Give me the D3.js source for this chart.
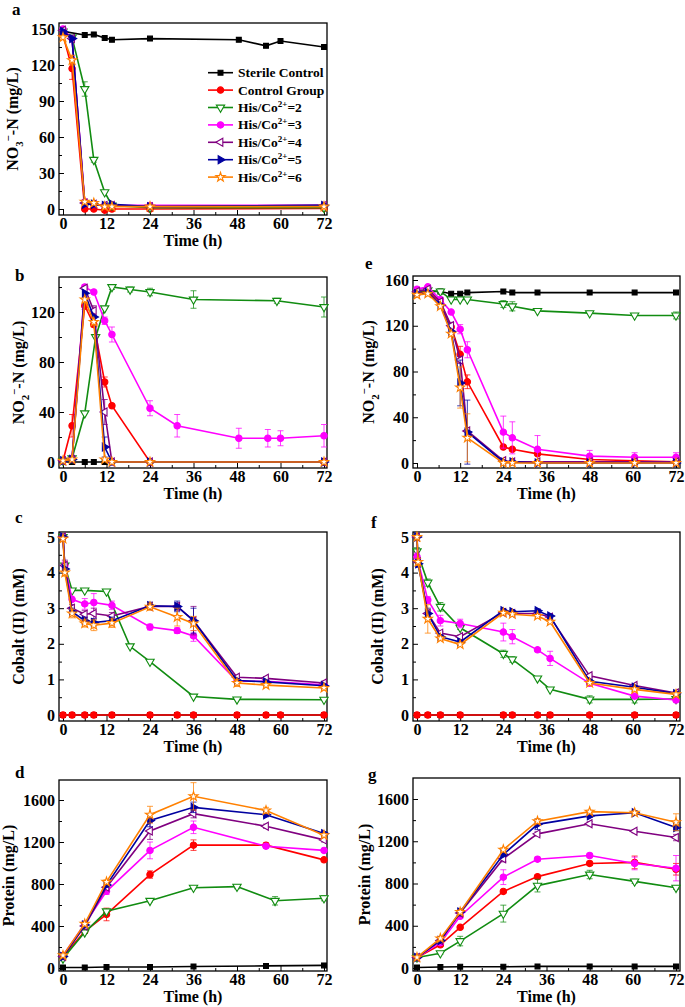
<!DOCTYPE html>
<html><head><meta charset="utf-8">
<script src="https://cdn.jsdelivr.net/npm/d3@7"></script>
<style>
body{margin:0;background:#fff;}
text{font-family:"Liberation Serif","Times New Roman",serif;font-weight:bold;fill:#000;}
</style>
</head><body>
<svg id="chart" width="685" height="1007"></svg>
<script>
// ---------------- DATA ----------------
const seriesKeys = ["sterile","control","his2","his3","his4","his5","his6"];
const seriesLabels = ["Sterile Control","Control Group","His/Co|2+|=2","His/Co|2+|=3","His/Co|2+|=4","His/Co|2+|=5","His/Co|2+|=6"];
const xTicks = [0,12,24,36,48,60,72];
const xMinorTicks = [6,18,30,42,54,66];

// Panel a: NO3- -N (mg/L)
const timeA_sterile = [0,6,8.5,11.5,13.5,24,48.5,56,60,72];
const nitrateA_sterile = [148,145,145.5,142.5,141,142,141,136,140,135];
const timeA = [0,2.5,6,8.5,11.5,13.5,24,72];
const nitrateA_control = [145,117,0,0,-1,0,0,0.5];
const nitrateA_his2 = [148,143,100,41,14,3,1,1];
const nitrateA_his3 = [150,142,6,4,3,3,3,3];
const nitrateA_his4 = [149,142,5,4,3,3,2,3];
const nitrateA_his5 = [148,142,4,4,3,4,2,3];
const nitrateA_his6 = [143,124,6,5,2,2,2,2];
const errA_control = [0,9,0,0,0,0,0,0];
const errA_his2 = [0,0,6,2,0,0,0,0];
const errA_his6 = [0,4,0,0,0,0,0,0];
const yTicksA = [0,30,60,90,120,150];
const yMinorA = [15,45,75,105,135];

// Panel b: NO2- -N (mg/L), nitrate medium
const timeB = [0,2.5,6,8.5,11.5,13.5,24,72];
const nitriteB_sterile = [0,0,0,0,0,0,0,0];
const nitriteB_control = [1,29,125,110,64,45,0,0];
const errB_control = [0,9,3,2,4,0,0,0];
const timeB_his2 = [0,2.5,6,9,11.5,13.5,18.5,24,36,59,72];
const nitriteB_his2 = [1,3,39,100,123,140,138,136,130,129,124];
const errB_his2 = [0,0,0,0,0,2,2,3,7,2,8];
const timeB_his3 = [0,2.5,6,8.5,11.5,13.5,24,31.5,48.5,56.5,60,72];
const nitriteB_his3 = [1,3,140,136,113,102,43,29,19,19,19,21];
const errB_his3 = [0,0,2,0,3,6,6,9,8,7,6,9];
const nitriteB_his4 = [1,2,139,121,40,0,0,0];
const errB_his4 = [0,0,0,4,10,0,0,0];
const nitriteB_his5 = [1,2,135,116,12,0,0,0];
const errB_his5 = [0,0,0,0,8,0,0,0];
const nitriteB_his6 = [1,2,130,112,2,0,0,0];
const yTicksB = [0,40,80,120];
const yMinorB = [20,60,100,140];

// Panel e: NO2- -N (mg/L), nitrite medium
const timeE = [0,3,6.5,9.5,12,14,24,26.5,33.5,48,60.5,72];
const nitriteE_sterile = [150,150,150,148,148,149,150,149,149,149,149,149];
const nitriteE_control = [148,150,140,119,95,71,14,12,8,3,2,1];
const errE_control = [0,0,0,0,7,6,0,0,0,0,0,0];
const nitriteE_his2 = [150,151,150,143,143,143,139,137,133,131,129,129];
const errE_his2 = [0,0,2,0,0,0,3,4,0,0,0,3];
const nitriteE_his3 = [152,154,143,132,117,99,27,22,12,6,5,5];
const errE_his3 = [0,0,0,0,4,7,14,14,12,5,4,4];
const nitriteE_his4 = [150,152,141,120,90,28,2,1,1,1,1,1];
const errE_his4 = [0,0,0,3,3,0,0,0,0,0,0,0];
const nitriteE_his5 = [148,149,138,115,70,27,1,1,0,0,0,0];
const errE_his5 = [0,0,0,0,20,28,0,0,0,0,0,0];
const nitriteE_his6 = [147,148,137,113,66,22,0,0,0,0,0,0];
const errE_his6 = [0,0,0,0,18,21,0,0,0,0,0,0];
const yTicksE = [0,40,80,120,160];
const yMinorE = [20,60,100,140];

// Panel c: Cobalt (II) (mM), nitrate medium
const timeC_zero = [0,2.5,6,8.5,13.5,24,31.5,36,48,56,60,72];
const cobaltC_sterile = [0,0,0,0,0,0,0,0,0,0,0,0];
const cobaltC_control = [0,0,0,0,0,0,0,0,0,0,0,0];
const timeC_his2 = [0,0.5,2.5,6,12,18.5,24,36,48,72];
const cobaltC_his2 = [5.0,4.2,3.5,3.5,3.47,1.93,1.5,0.52,0.44,0.43];
const timeC = [0,0.5,2.5,6,8.5,13.5,24,31.5,36,48,56,72];
const cobaltC_his3 = [5.0,4.2,3.25,3.12,3.16,3.08,2.47,2.37,2.22,0.95,0.95,0.85];
const errC_his3 = [0,0.1,0,0.15,0.25,0.12,0.08,0.08,0.15,0,0,0];
const cobaltC_his4 = [5.0,4.2,3.0,2.83,2.85,2.78,3.05,3.05,2.65,1.06,1.03,0.9];
const errC_his4 = [0,0.15,0.1,0.1,0.15,0.1,0.08,0.1,0.4,0.05,0.05,0.05];
const cobaltC_his5 = [5.0,4.1,2.9,2.65,2.6,2.65,3.07,3.05,2.65,0.97,0.93,0.82];
const errC_his5 = [0,0,0.1,0.1,0.1,0.1,0.1,0.15,0.35,0.05,0.05,0.05];
const cobaltC_his6 = [4.95,4.0,2.85,2.57,2.52,2.58,3.04,2.75,2.57,0.9,0.84,0.76];
const errC_his6 = [0,0.1,0.12,0.1,0.15,0.12,0.1,0.25,0.2,0.1,0.05,0.05];
const yTicksC = [0,1,2,3,4,5];
const yMinorC = [0.5,1.5,2.5,3.5,4.5];

// Panel f: Cobalt (II) (mM), nitrite medium
const timeF_zero = [0,3,6.5,12,24,26.5,33.5,37,48,60.5,72];
const cobaltF_sterile = [0,0,0,0,0,0,0,0,0,0,0];
const cobaltF_control = [0,0,0,0,0,0,0,0,0,0,0];
const timeF_his2 = [0,3,6.5,12,24,26.5,33.5,37,48,60.5,72];
const cobaltF_his2 = [4.6,3.72,3.04,2.45,1.72,1.56,1.03,0.72,0.44,0.44,0.45];
const errF_his2 = [0.1,0.1,0.12,0.05,0.1,0.08,0,0,0.1,0.1,0.05];
const cobaltF_his3 = [4.45,3.23,2.65,2.57,2.33,2.2,1.83,1.59,0.89,0.53,0.42];
const errF_his3 = [0.1,0.1,0.15,0.12,0.25,0.2,0.05,0.2,0.05,0.05,0.05];
const timeF = [0,0.3,3,6.5,12,24,26.5,33.5,37,48,60.5,72];
const cobaltF_his4 = [5.0,4.3,2.85,2.3,2.2,2.88,2.85,2.85,2.75,1.1,0.83,0.62];
const errF_his4 = [0,0.1,0.1,0.05,0.05,0.05,0.05,0.05,0.05,0.05,0.05,0.05];
const cobaltF_his5 = [5.0,4.25,2.85,2.2,2.05,2.93,2.9,2.93,2.78,0.95,0.78,0.6];
const errF_his5 = [0,0.1,0.15,0.05,0.05,0.05,0.05,0.05,0.05,0.05,0.05,0.05];
const cobaltF_his6 = [5.0,4.3,2.7,2.15,1.98,2.87,2.83,2.78,2.62,0.9,0.72,0.58];
const errF_his6 = [0,0.1,0.4,0.05,0.05,0.05,0.05,0.05,0.05,0.05,0.05,0.05];

// Panel d: Protein (mg/L), nitrate medium
const timeD = [0,6,12,24,36,56,72];
const proteinD_sterile = [5,5,10,10,15,20,25];
const proteinD_control = [110,350,510,890,1170,1170,1030];
const errD_control = [0,20,60,35,50,20,15];
const timeD_his2 = [0,6,12,24,36,48,58.5,72];
const proteinD_his2 = [90,340,540,640,765,775,640,665];
const errD_his2 = [0,10,10,10,10,20,40,25];
const proteinD_his3 = [120,420,730,1120,1340,1160,1120];
const errD_his3 = [0,20,30,80,60,20,15];
const proteinD_his4 = [110,400,770,1305,1470,1350,1220];
const errD_his4 = [0,20,20,80,40,20,20];
const proteinD_his5 = [110,410,790,1405,1530,1460,1280];
const errD_his5 = [0,10,20,60,50,20,15];
const proteinD_his6 = [120,420,820,1460,1635,1500,1265];
const errD_his6 = [0,10,20,80,130,30,15];
const yTicksD = [0,400,800,1200,1600];
const yMinorD = [200,600,1000,1400];

// Panel g: Protein (mg/L), nitrite medium
const timeG = [0,6.5,12,24,33.5,48,60.5,72];
const proteinG_sterile = [5,10,12,12,15,15,15,15];
const proteinG_control = [100,220,385,725,865,990,1000,935];
const errG_control = [0,15,15,15,15,20,60,55];
const proteinG_his2 = [100,140,255,515,780,885,820,760];
const errG_his2 = [0,10,45,80,60,40,20,15];
const proteinG_his3 = [100,240,490,860,1030,1065,990,945];
const errG_his3 = [0,10,20,70,20,20,60,120];
const proteinG_his4 = [100,260,520,1035,1270,1365,1295,1235];
const errG_his4 = [0,20,30,30,20,20,15,30];
const proteinG_his5 = [100,260,530,1075,1360,1440,1470,1330];
const errG_his5 = [0,20,30,20,50,15,20,30];
const proteinG_his6 = [100,280,530,1120,1390,1480,1470,1380];
const errG_his6 = [0,20,20,20,25,15,15,80];

// ---------------- STYLES ----------------
const style = {
  sterile:{color:"#000000", type:d3.symbolSquare, size:24, rot:0, open:false},
  control:{color:"#ff0000", type:d3.symbolCircle, size:32, rot:0, open:false},
  his2:{color:"#118c11", type:d3.symbolTriangle, size:30, rot:180, open:true},
  his3:{color:"#ff00ff", type:d3.symbolCircle, size:32, rot:0, open:false},
  his4:{color:"#800080", type:d3.symbolTriangle, size:28, rot:-90, open:true},
  his5:{color:"#0000a0", type:d3.symbolTriangle, size:28, rot:90, open:false},
  his6:{color:"#ff8000", type:d3.symbolStar, size:26, rot:0, open:true}
};

const svg = d3.select("#chart");

function ser(key, t, v, e){ return {key, pts: t.map((tt,i)=>({t:tt, v:v[i], e: e ? e[i] : 0}))}; }

function addLabel(g, x, y, parts, rotate, anchor, size){
  const t = g.append("text")
    .attr("transform", `translate(${x},${y})` + (rotate ? " rotate(-90)" : ""))
    .attr("text-anchor", anchor).style("font-size", size + "px");
  let shift = 0;
  parts.forEach(([txt, kind]) => {
    const target = kind==="sub" ? size*0.3 : kind==="sup" ? -size*0.38 : 0;
    t.append("tspan").text(txt).attr("dy", target - shift)
      .style("font-size", (kind==="n" ? size : size*0.68) + "px");
    shift = target;
  });
  return t;
}

function drawPanel(p){
  const g = svg.append("g");
  const x = d3.scaleLinear().domain([0,72]).range(p.xr);
  const y = d3.scaleLinear().domain(p.yd).range(p.yr);

  const xa = g.append("g").attr("transform", `translate(0,${p.fy[1]})`)
    .call(d3.axisBottom(x).tickValues(xTicks).tickSize(-5).tickPadding(2).tickFormat(d3.format("d")));
  const xm = g.append("g").attr("transform", `translate(0,${p.fy[1]})`)
    .call(d3.axisBottom(x).tickValues(xMinorTicks).tickSize(-3).tickFormat(""));
  const ya = g.append("g").attr("transform", `translate(${p.fx[0]},0)`)
    .call(d3.axisLeft(y).tickValues(p.yTicks).tickSize(-5).tickPadding(4).tickFormat(d3.format("d")));
  const ym = g.append("g").attr("transform", `translate(${p.fx[0]},0)`)
    .call(d3.axisLeft(y).tickValues(p.yMinor).tickSize(-3).tickFormat(""));
  [xa,xm,ya,ym].forEach(a=>{
    a.select(".domain").remove();
    a.selectAll("line").attr("stroke","#000").attr("stroke-width",1);
    a.selectAll("text").style("font-size","16px").style("font-family",'"Liberation Serif",serif').style("font-weight","bold").attr("fill","#000");
  });
  xa.selectAll("text").attr("dy","0.72em");

  g.append("rect").attr("x",p.fx[0]).attr("y",p.fy[0])
    .attr("width",p.fx[1]-p.fx[0]).attr("height",p.fy[1]-p.fy[0])
    .attr("fill","none").attr("stroke","#000").attr("stroke-width",1.3);

  const line = d3.line().x(d=>x(d.t)).y(d=>y(d.v));
  p.series.forEach(s=>{
    const st = style[s.key];
    const sg = g.append("g");
    sg.append("path").attr("d", line(s.pts)).attr("fill","none")
      .attr("stroke", st.color).attr("stroke-width", 1.6);
    s.pts.filter(d=>d.e>0).forEach(d=>{
      const cx = x(d.t), y1 = y(d.v+d.e), y2 = y(d.v-d.e);
      sg.append("line").attr("x1",cx).attr("x2",cx).attr("y1",y1).attr("y2",y2).attr("stroke",st.color).attr("stroke-width",1).attr("opacity",0.75);
      [y1,y2].forEach(yy=>sg.append("line").attr("x1",cx-3).attr("x2",cx+3).attr("y1",yy).attr("y2",yy).attr("stroke",st.color).attr("stroke-width",1).attr("opacity",0.75));
    });
    sg.selectAll("path.m").data(s.pts).enter().append("path").attr("class","m")
      .attr("d", d3.symbol().type(st.type).size(st.size))
      .attr("transform", d=>`translate(${x(d.t)},${y(d.v)}) rotate(${st.rot})`)
      .attr("fill", st.open ? "#fff" : st.color)
      .attr("stroke", st.color).attr("stroke-width", 1.1);
  });

  g.append("text").attr("x",p.letterPos[0]).attr("y",p.letterPos[1]).text(p.letter).style("font-size","17px");
  g.append("text").attr("x",(p.fx[0]+p.fx[1])/2).attr("y",p.fy[1]+31).attr("text-anchor","middle").text("Time (h)").style("font-size","16px");
  addLabel(g, p.ylabX, (p.fy[0]+p.fy[1])/2, p.ylab, true, "middle", 16);
  return {g, x, y};
}

const L = {xr:[63,324], fx:[59,327]};
const R = {xr:[417,676], fx:[413,680]};

drawPanel({...L, fy:[23,215], yd:[0,150], yr:[209,29], yTicks:yTicksA, yMinor:yMinorA,
  letter:"a", letterPos:[12,15], ylabX:18,
  ylab:[["NO","n"],["3","sub"],["−","sup"],["-N (mg/L)","n"]],
  series:[ser("sterile",timeA_sterile,nitrateA_sterile), ser("control",timeA,nitrateA_control,errA_control),
    ser("his2",timeA,nitrateA_his2,errA_his2), ser("his3",timeA,nitrateA_his3), ser("his4",timeA,nitrateA_his4),
    ser("his5",timeA,nitrateA_his5), ser("his6",timeA,nitrateA_his6,errA_his6)]});

drawPanel({...L, fy:[277,468], yd:[0,120], yr:[462,312], yTicks:yTicksB, yMinor:yMinorB,
  letter:"b", letterPos:[15,281], ylabX:24,
  ylab:[["NO","n"],["2","sub"],["−","sup"],["-N (mg/L)","n"]],
  series:[ser("sterile",timeB,nitriteB_sterile), ser("control",timeB,nitriteB_control,errB_control),
    ser("his2",timeB_his2,nitriteB_his2,errB_his2), ser("his3",timeB_his3,nitriteB_his3,errB_his3),
    ser("his4",timeB,nitriteB_his4,errB_his4), ser("his5",timeB,nitriteB_his5,errB_his5), ser("his6",timeB,nitriteB_his6)]});

drawPanel({...R, fy:[276,468], yd:[0,160], yr:[463,280], yTicks:yTicksE, yMinor:yMinorE,
  letter:"e", letterPos:[365,269], ylabX:374,
  ylab:[["NO","n"],["2","sub"],["−","sup"],["-N (mg/L)","n"]],
  series:[ser("sterile",timeE,nitriteE_sterile), ser("control",timeE,nitriteE_control,errE_control),
    ser("his2",timeE,nitriteE_his2,errE_his2), ser("his3",timeE,nitriteE_his3,errE_his3),
    ser("his4",timeE,nitriteE_his4,errE_his4), ser("his5",timeE,nitriteE_his5,errE_his5), ser("his6",timeE,nitriteE_his6,errE_his6)]});

drawPanel({...L, fy:[532,721], yd:[0,5], yr:[715,537], yTicks:yTicksC, yMinor:yMinorC,
  letter:"c", letterPos:[15,523], ylabX:24,
  ylab:[["Cobalt (II) (mM)","n"]],
  series:[ser("sterile",timeC_zero,cobaltC_sterile), ser("control",timeC_zero,cobaltC_control),
    ser("his2",timeC_his2,cobaltC_his2), ser("his3",timeC,cobaltC_his3,errC_his3),
    ser("his4",timeC,cobaltC_his4,errC_his4), ser("his5",timeC,cobaltC_his5,errC_his5), ser("his6",timeC,cobaltC_his6,errC_his6)]});

drawPanel({...R, fy:[532,721], yd:[0,5], yr:[715,537], yTicks:yTicksC, yMinor:yMinorC,
  letter:"f", letterPos:[371,528], ylabX:383,
  ylab:[["Cobalt (II) (mM)","n"]],
  series:[ser("sterile",timeF_zero,cobaltF_sterile), ser("control",timeF_zero,cobaltF_control),
    ser("his2",timeF_his2,cobaltF_his2,errF_his2), ser("his3",timeF_his2,cobaltF_his3,errF_his3),
    ser("his4",timeF,cobaltF_his4,errF_his4), ser("his5",timeF,cobaltF_his5,errF_his5), ser("his6",timeF,cobaltF_his6,errF_his6)]});

drawPanel({...L, fy:[780,971], yd:[0,1600], yr:[968,800], yTicks:yTicksD, yMinor:yMinorD,
  letter:"d", letterPos:[15,778], ylabX:14,
  ylab:[["Protein (mg/L)","n"]],
  series:[ser("sterile",timeD,proteinD_sterile), ser("control",timeD,proteinD_control,errD_control),
    ser("his2",timeD_his2,proteinD_his2,errD_his2), ser("his3",timeD,proteinD_his3,errD_his3),
    ser("his4",timeD,proteinD_his4,errD_his4), ser("his5",timeD,proteinD_his5,errD_his5), ser("his6",timeD,proteinD_his6,errD_his6)]});

drawPanel({...R, fy:[778,971], yd:[0,1600], yr:[968,799], yTicks:yTicksD, yMinor:yMinorD,
  letter:"g", letterPos:[368,780], ylabX:370,
  ylab:[["Protein (mg/L)","n"]],
  series:[ser("sterile",timeG,proteinG_sterile), ser("control",timeG,proteinG_control,errG_control),
    ser("his2",timeG,proteinG_his2,errG_his2), ser("his3",timeG,proteinG_his3,errG_his3),
    ser("his4",timeG,proteinG_his4,errG_his4), ser("his5",timeG,proteinG_his5,errG_his5), ser("his6",timeG,proteinG_his6,errG_his6)]});

// legend (panel a)
const lg = svg.append("g");
seriesKeys.forEach((k,i)=>{
  const st = style[k];
  const yy = 72.7 + i*17.4;
  lg.append("line").attr("x1",208).attr("x2",233).attr("y1",yy).attr("y2",yy).attr("stroke",st.color).attr("stroke-width",1.6);
  lg.append("path").attr("d", d3.symbol().type(st.type).size(st.size)())
    .attr("transform",`translate(220.5,${yy}) rotate(${st.rot})`)
    .attr("fill", st.open ? "#fff" : st.color).attr("stroke",st.color).attr("stroke-width",1.1);
  const parts = seriesLabels[i].split("|");
  const t = lg.append("text").attr("x",238).attr("y",yy+4.5).style("font-size","13.5px");
  t.append("tspan").text(parts[0]);
  if(parts.length>1){
    t.append("tspan").text(parts[1]).attr("dy",-5).style("font-size","9px");
    t.append("tspan").text(parts[2]).attr("dy",5);
  }
});
</script>
</body></html>
